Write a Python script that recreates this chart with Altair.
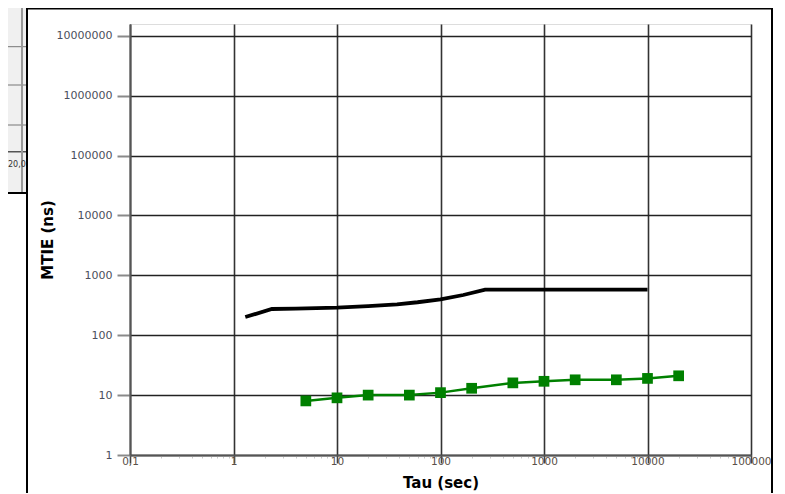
import altair as alt
import pandas as pd

# ---- data ----
mask_tau = [1.3, 2.35, 4, 10, 20, 38, 60, 100, 166, 270, 10000]
mask_mtie = [201, 274, 277, 288, 306, 328, 355, 397, 469, 575, 575]

meas_tau = [5, 10, 20, 50, 100, 200, 500, 1000, 2000, 5000, 10000, 20000]
meas_mtie = [8, 9, 10, 10, 11, 13, 16, 17, 18, 18, 19, 21]

x_decades = [0.1, 1, 10, 100, 1000, 10000, 100000]
x_labels = ["0,1", "1", "10", "100", "1000", "10000", "100000"]
y_decades = [1, 10, 100, 1000, 10000, 100000, 1000000, 10000000]
minor_mult = [1, 2, 3, 4, 5, 6, 7, 8, 9]

x_ticks = [round(m * d, 6) for d in x_decades[:-1] for m in minor_mult] + [x_decades[-1]]

mask_df = pd.DataFrame({"tau": mask_tau, "mtie": mask_mtie})
meas_df = pd.DataFrame({"tau": meas_tau, "mtie": meas_mtie})
one = pd.DataFrame({"k": [0]})

W, H = 621, 431
FONT = "DejaVu Sans"

dec_list = "[" + ",".join(str(v) for v in x_decades) + "]"
lab_list = "[" + ",".join("'" + s + "'" for s in x_labels) + "]"
is_dec = f"indexof({dec_list}, datum.value) >= 0"

xscale = alt.Scale(type="log", domain=[0.1, 100000], nice=False)
yscale = alt.Scale(type="log", domain=[1, 1.57e7], nice=False)

xaxis = alt.Axis(
    values=x_ticks,
    title="Tau (sec)",
    titleFont=FONT, titleFontSize=15, titleFontWeight="bold", titleColor="#000",
    titlePadding=9,
    labelExpr=f"{is_dec} ? {lab_list}[indexof({dec_list}, datum.value)] : ''",
    labelFont=FONT, labelFontSize=10.5, labelColor="#5a5048",
    labelPadding=-7, labelFlush=False, labelOverlap=False,
    grid=True,
    gridColor="#333", gridWidth=1.6,
    gridOpacity={"condition": {"test": is_dec, "value": 1}, "value": 0},
    ticks=True,
    tickSize={"condition": {"test": is_dec, "value": 8}, "value": 3},
    tickColor={"condition": {"test": is_dec, "value": "#444"}, "value": "#c8c8c8"},
    tickWidth={"condition": {"test": is_dec, "value": 1.6}, "value": 1},
    domainColor="#555", domainWidth=2,
)

yaxis = alt.Axis(
    values=y_decades,
    format="d",
    title="MTIE (ns)",
    titleFont=FONT, titleFontSize=15, titleFontWeight="bold", titleColor="#000",
    titlePadding=1,
    labelFont=FONT, labelFontSize=11, labelColor="#4b4f5c",
    labelPadding=5, labelOverlap=False,
    grid=True, gridColor="#222", gridWidth=1.5,
    tickSize=13, tickColor="#8a8a8a", tickWidth=2,
    domainColor="#555", domainWidth=2,
)

# decorative: window behind, and frame of the front window
back = alt.Chart(one).mark_rect(fill="#f0f0f0").encode(
    x=alt.value(-140), x2=alt.value(-103), y=alt.value(-30), y2=alt.value(169)
)
back_lines = [
    alt.Chart(one).mark_rule(color="#777", strokeWidth=1).encode(
        x=alt.value(-140), x2=alt.value(-103), y=alt.value(yy))
    for yy in [22.7, 61, 101]
]
back_axis = alt.Chart(one).mark_rule(color="#555", strokeWidth=1.5).encode(
    x=alt.value(-140), x2=alt.value(-103), y=alt.value(127.7))
back_v = alt.Chart(one).mark_rule(color="#999", strokeWidth=2).encode(
    x=alt.value(-108), y=alt.value(-30), y2=alt.value(169))
back_bottom = alt.Chart(one).mark_rule(color="#000", strokeWidth=2).encode(
    x=alt.value(-140), x2=alt.value(-103), y=alt.value(169))
back_text = alt.Chart(one).mark_text(
    text="20,0", font=FONT, fontSize=8, color="#333", align="left", baseline="middle"
).encode(x=alt.value(-122), y=alt.value(141))

frame = alt.Chart(one).mark_rect(
    fill="transparent", stroke="#000", strokeWidth=2
).encode(x=alt.value(-103), x2=alt.value(642), y=alt.value(-15.5), y2=alt.value(520))

mask_line = alt.Chart(mask_df).mark_line(
    color="#000", strokeWidth=3.8
).encode(
    x=alt.X("tau:Q", scale=xscale, axis=xaxis),
    y=alt.Y("mtie:Q", scale=yscale, axis=yaxis),
)

meas_line = alt.Chart(meas_df).mark_line(color="#008000", strokeWidth=2.5).encode(
    x=alt.X("tau:Q", scale=xscale),
    y=alt.Y("mtie:Q", scale=yscale),
)
meas_pts = alt.Chart(meas_df).mark_square(
    color="#008000", size=115, opacity=1, filled=True
).encode(
    x=alt.X("tau:Q", scale=xscale),
    y=alt.Y("mtie:Q", scale=yscale),
)

chart = alt.layer(
    back, *back_lines, back_axis, back_v, back_bottom, back_text,
    mask_line, meas_line, meas_pts, frame,
).properties(
    width=W, height=H,
    autosize=alt.AutoSizeParams(type="none"),
    padding={"left": 122, "top": 16, "right": 26, "bottom": 38},
).configure_view(stroke=None).configure(background="white")

chart.save("out.html", embed_options={"renderer": "svg", "actions": False})
